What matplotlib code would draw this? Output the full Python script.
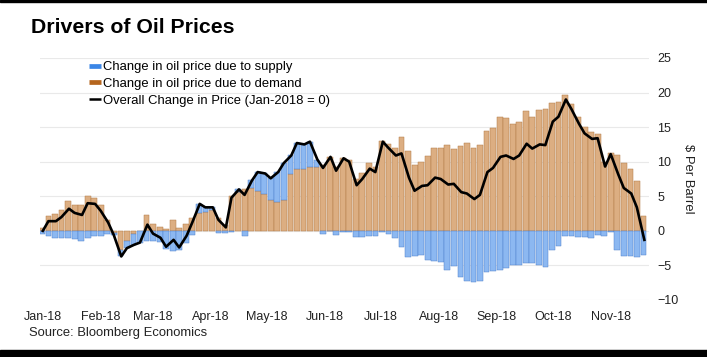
import numpy as np
import pandas as pd
import matplotlib
matplotlib.use("Agg")
import matplotlib.pyplot as plt
import matplotlib.dates as mdates
from matplotlib.lines import Line2D
from matplotlib.patches import Rectangle

plt.rcParams['font.family'] = ['Liberation Sans', 'DejaVu Sans']

# twice-weekly readings (Mon / Thu), $ per barrel vs Jan-2018
dates = [
    "2018-01-01", "2018-01-04", "2018-01-08", "2018-01-11", "2018-01-15", "2018-01-18",
    "2018-01-22", "2018-01-25", "2018-01-29",
    "2018-02-01", "2018-02-05", "2018-02-08", "2018-02-12", "2018-02-15", "2018-02-19",
    "2018-02-22", "2018-02-26",
    "2018-03-01", "2018-03-05", "2018-03-08", "2018-03-12", "2018-03-15", "2018-03-19",
    "2018-03-22", "2018-03-26", "2018-03-29",
    "2018-04-02", "2018-04-05", "2018-04-09", "2018-04-12", "2018-04-16", "2018-04-19",
    "2018-04-23", "2018-04-26", "2018-04-30",
    "2018-05-03", "2018-05-07", "2018-05-10", "2018-05-14", "2018-05-17", "2018-05-21",
    "2018-05-24", "2018-05-28", "2018-05-31",
    "2018-06-04", "2018-06-07", "2018-06-11", "2018-06-14", "2018-06-18", "2018-06-21",
    "2018-06-25", "2018-06-28",
    "2018-07-02", "2018-07-05", "2018-07-09", "2018-07-12", "2018-07-16", "2018-07-19",
    "2018-07-23", "2018-07-26", "2018-07-30",
    "2018-08-02", "2018-08-06", "2018-08-09", "2018-08-13", "2018-08-16", "2018-08-20",
    "2018-08-23", "2018-08-27", "2018-08-30",
    "2018-09-03", "2018-09-06", "2018-09-10", "2018-09-13", "2018-09-17", "2018-09-20",
    "2018-09-24", "2018-09-27",
    "2018-10-01", "2018-10-04", "2018-10-08", "2018-10-11", "2018-10-15", "2018-10-18",
    "2018-10-22", "2018-10-25", "2018-10-29",
    "2018-11-01", "2018-11-05", "2018-11-08", "2018-11-12", "2018-11-15", "2018-11-19",
]

demand = [
    0.4, 2.2, 2.5, 3.0, 4.3, 3.8, 3.8, 5.0, 4.7,
    3.7, 1.6, -0.3, -2.8, -1.5, -0.4, 0.0, 2.3,
    1.0, 0.6, 0.3, 1.6, 0.4, 1.0, 1.8, 2.6, 2.7,
    3.0, 1.9, 0.8, 5.0, 5.6, 6.0, 6.2, 5.7, 5.4,
    4.5, 4.2, 4.5, 8.2, 9.0, 9.0, 9.2, 9.3, 9.5,
    10.7, 9.3, 10.6, 10.2, 7.5, 8.4, 9.8, 9.3,
    13.0, 12.5, 12.0, 13.6, 11.5, 9.5, 10.0, 10.8, 12.0,
    12.0, 12.4, 11.9, 12.3, 12.7, 12.0, 12.4, 14.4, 14.9,
    16.4, 16.3, 15.4, 15.8, 17.3, 16.5, 17.5, 17.6,
    18.5, 18.7, 19.7, 18.3, 16.4, 15.0, 14.3, 14.0, 10.0,
    11.3, 11.0, 9.8, 9.0, 7.2, 2.2,
]

supply = [
    -0.4, -0.8, -1.1, -1.0, -1.1, -1.2, -1.5, -1.0, -0.8,
    -0.8, -0.4, -0.3, -0.9, -1.0, -1.6, -1.7, -1.4,
    -1.4, -1.6, -2.6, -2.9, -2.8, -1.7, -0.6, 1.3, 0.7,
    0.4, -0.3, -0.3, -0.2, 0.4, -0.8, 1.1, 2.8, 2.9,
    3.1, 4.3, 5.3, 2.7, 3.7, 3.5, 3.7, 1.0, -0.4,
    0.0, -0.6, -0.1, -0.2, -0.9, -0.9, -0.8, -0.8,
    -0.1, -0.5, -1.1, -2.4, -3.8, -3.7, -3.5, -4.2, -4.3,
    -4.5, -5.7, -5.1, -6.7, -7.3, -7.4, -7.2, -5.9, -5.8,
    -5.7, -5.4, -5.0, -4.9, -4.7, -4.6, -5.0, -5.2,
    -2.7, -2.2, -0.7, -0.7, -0.9, -0.9, -1.0, -0.6, -0.7,
    -0.2, -2.8, -3.6, -3.6, -3.8, -3.5,
]

overall = [
    0.0, 1.4, 1.4, 2.0, 3.2, 2.6, 2.3, 4.0, 3.9,
    2.9, 1.2, -0.6, -3.7, -2.5, -2.0, -1.7, 0.9,
    -0.4, -1.0, -2.3, -1.3, -2.4, -0.7, 1.2, 3.9, 3.4,
    3.4, 1.6, 0.5, 4.8, 6.0, 5.2, 7.3, 8.5, 8.3,
    7.6, 8.5, 9.8, 10.9, 12.7, 12.5, 12.9, 10.3, 9.1,
    10.7, 8.7, 10.5, 10.0, 6.6, 7.5, 9.0, 8.5,
    12.9, 12.0, 10.9, 11.2, 7.7, 5.8, 6.5, 6.6, 7.7,
    7.5, 6.7, 6.8, 5.6, 5.4, 4.6, 5.2, 8.5, 9.1,
    10.7, 10.9, 10.4, 10.9, 12.6, 11.9, 12.5, 12.4,
    15.8, 16.5, 19.0, 17.6, 15.5, 14.1, 13.3, 13.4, 9.3,
    11.1, 8.2, 6.2, 5.4, 3.4, -1.3,
]

month_ticks = ["2018-%02d-01" % m for m in range(1, 12)]

SUPPLY_C = '#3b86e6'
DEMAND_C = '#b5651d'
SUPPLY_BAR = '#8cb8f1'
DEMAND_BAR = '#dcae82'

x = mdates.date2num(pd.to_datetime(dates))
dem = np.array(demand)
sup = np.array(supply)

# bar edges halfway between readings
mid = (x[:-1] + x[1:]) / 2
left = np.r_[x[0] - 1.5, mid]
right = np.r_[mid, x[-1] + 1.5]
width = right - left - 0.4
sup_bottom = np.where(np.sign(sup) == np.sign(dem), dem, 0.0)

fig = plt.figure(figsize=(7.07, 3.57), dpi=100)
ax = fig.add_axes([40 / 707, 1 - 300 / 357, 609 / 707, 242 / 357])

for y in range(-10, 30, 5):
    ax.axhline(y, color='#e9e9e9', lw=0.8, zorder=0)

# thin darker edges give the striped look of the daily bars
ax.bar(left, dem, width=width, align='edge', color=DEMAND_BAR,
       edgecolor='#b27a45', lw=0.35, zorder=2)
ax.bar(left, sup, width=width, bottom=sup_bottom, align='edge', color=SUPPLY_BAR,
       edgecolor='#4f82cc', lw=0.35, zorder=2)
ax.plot(x, overall, color='black', lw=1.9, zorder=4, solid_joinstyle='round')

ax.set_xlim(mdates.date2num(pd.Timestamp("2018-01-01")) - 1.5,
            mdates.date2num(pd.Timestamp("2018-11-21")) + 0.5)
ax.set_ylim(-10, 25)

ax.set_xticks(mdates.date2num(pd.to_datetime(month_ticks)))
ax.xaxis.set_major_formatter(mdates.DateFormatter('%b-%y'))
ax.set_yticks(range(-10, 30, 5))
ax.yaxis.tick_right()
ax.tick_params(axis='both', length=0, labelsize=9, colors='#222222')
ax.tick_params(axis='x', pad=8)
ax.tick_params(axis='y', pad=6)
for s in ax.spines.values():
    s.set_visible(False)

handles = [
    Line2D([0], [0], color=SUPPLY_C, lw=3.4, solid_capstyle='butt'),
    Line2D([0], [0], color=DEMAND_C, lw=3.4, solid_capstyle='butt'),
    Line2D([0], [0], color='black', lw=1.8, solid_capstyle='butt'),
]
labels = [
    "Change in oil price due to supply",
    "Change in oil price due to demand",
    "Overall Change in Price (Jan-2018 = 0)",
]
fig.legend(handles, labels, loc='upper left', bbox_to_anchor=(89 / 707, 1 - 61 / 357),
           frameon=False, fontsize=9.4, handlelength=0.95, handletextpad=0.1,
           labelspacing=0.35, borderpad=0, borderaxespad=0)

fig.text(31 / 707, 1 - 33 / 357, "Drivers of Oil Prices", fontsize=15.3,
         fontweight='bold', va='baseline', ha='left')
fig.text(29 / 707, 1 - 333 / 357, "Source: Bloomberg Economics", fontsize=9.4,
         va='center', ha='left', color='#222222')
fig.text(688 / 707, 1 - 179 / 357, "$ Per Barrel", fontsize=9.4, rotation=270,
         va='center', ha='center', color='#222222')

# black frame strips of the screenshot
fig.patches.append(Rectangle((0, 0), 1, 7 / 357, transform=fig.transFigure,
                             color='black', zorder=10))
fig.patches.append(Rectangle((0, 1 - 2 / 357), 1, 2 / 357, transform=fig.transFigure,
                             color='black', zorder=10))

fig.savefig("out.png", dpi=100)
